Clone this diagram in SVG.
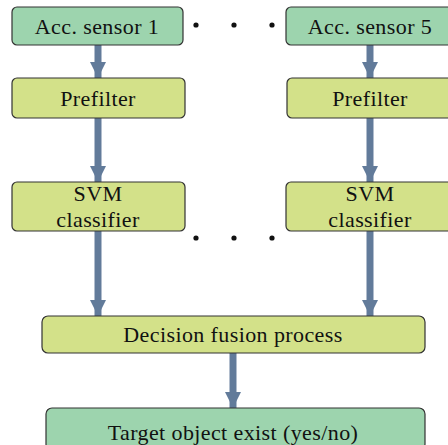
<svg xmlns="http://www.w3.org/2000/svg" width="448" height="445" viewBox="0 0 448 445">
<defs>
<style>
.g{fill:#9dd4ae;stroke:#333;stroke-width:1.2}
.y{fill:#d3e189;stroke:#333;stroke-width:1.2}
text{font-family:"Liberation Serif","DejaVu Serif",serif;font-size:22px;letter-spacing:0.4px;fill:#111;text-anchor:middle}
.arr{stroke:#627b9a;stroke-width:7;fill:none}
.dot{fill:#111}
</style>
<marker id="ah" markerUnits="userSpaceOnUse" markerWidth="16" markerHeight="18" refX="16" refY="8" orient="auto">
<path d="M0,0 L16,8 L0,16 Z" fill="#627b9a"/>
</marker>
</defs>
<rect width="448" height="445" fill="#fff"/>
<g id="connectors">
<line class="arr" x1="98" y1="45" x2="98" y2="78" marker-end="url(#ah)"/>
<line class="arr" x1="370" y1="45" x2="370" y2="78" marker-end="url(#ah)"/>
<line class="arr" x1="98" y1="118" x2="98" y2="182" marker-end="url(#ah)"/>
<line class="arr" x1="370" y1="118" x2="370" y2="182" marker-end="url(#ah)"/>
<line class="arr" x1="98" y1="231" x2="98" y2="316" marker-end="url(#ah)"/>
<line class="arr" x1="370" y1="231" x2="370" y2="316" marker-end="url(#ah)"/>
<line class="arr" x1="233" y1="353" x2="233" y2="408" marker-end="url(#ah)"/>
</g>
<g id="dots1">
<circle class="dot" cx="196" cy="25" r="2.6"/>
<circle class="dot" cx="234" cy="25" r="2.6"/>
<circle class="dot" cx="272" cy="25" r="2.6"/>
</g>
<g id="dots2">
<circle class="dot" cx="196" cy="238" r="2.6"/>
<circle class="dot" cx="234" cy="238" r="2.6"/>
<circle class="dot" cx="272" cy="238" r="2.6"/>
</g>
<g id="sensor1"><rect class="g" x="12" y="7" width="171" height="38" rx="5"/><text x="97" y="34">Acc. sensor 1</text></g>
<g id="sensor5"><rect class="g" x="286" y="7" width="175" height="38" rx="5"/><text x="370" y="34">Acc. sensor 5</text></g>
<g id="prefilter1"><rect class="y" x="12" y="78" width="173" height="40" rx="5"/><text x="98" y="106">Prefilter</text></g>
<g id="prefilter5"><rect class="y" x="287" y="78" width="175" height="40" rx="5"/><text x="370" y="106">Prefilter</text></g>
<g id="svm1"><rect class="y" x="12" y="182" width="173" height="49" rx="5"/><text x="98" y="201">SVM</text><text x="98" y="227">classifier</text></g>
<g id="svm5"><rect class="y" x="286" y="182" width="176" height="49" rx="5"/><text x="370" y="201">SVM</text><text x="370" y="227">classifier</text></g>
<g id="fusion"><rect class="y" x="42" y="316" width="383" height="37" rx="6"/><text x="233" y="342">Decision fusion process</text></g>
<g id="target"><rect class="g" x="46" y="408" width="379" height="42" rx="6"/><text x="233" y="440">Target object exist (yes/no)</text></g>
</svg>
